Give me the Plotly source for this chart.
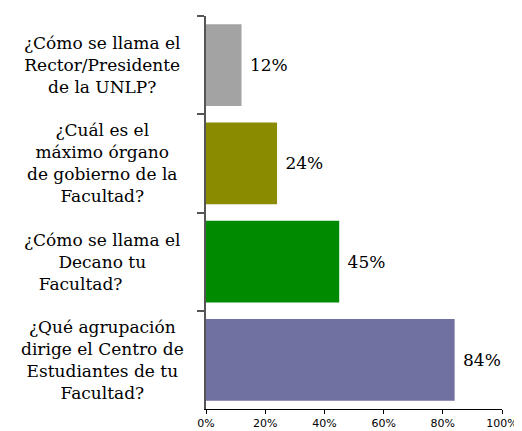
import plotly.graph_objects as go

categories = [
    "¿Cómo se llama el<br>Rector/Presidente<br>de la UNLP?",
    "¿Cuál es el<br>máximo órgano<br>de gobierno de la<br>Facultad?",
    "¿Cómo se llama el<br>Decano tu<br>Facultad?" + "&nbsp;" * 8,
    "¿Qué agrupación<br>dirige el Centro de<br>Estudiantes de tu<br>Facultad?",
]
values = [0.12, 0.24, 0.45, 0.84]
labels = ["12%", "24%", "45%", "84%"]
colors = ["#A3A3A3", "#8B8B00", "#008A00", "#7171A1"]
keys = ["q1", "q2", "q3", "q4"]

fig = go.Figure()
fig.add_trace(go.Bar(
    y=keys, x=values, orientation="h",
    marker=dict(color=colors, line=dict(width=0)),
    text=labels, texttemplate="&nbsp;%{text}", textposition="outside",
    textfont=dict(family="DejaVu Serif", size=17, color="black"),
    width=0.83, cliponaxis=False,
))

for k, c in zip(keys, categories):
    fig.add_annotation(
        x=-0.351, xref="paper", y=k, yref="y",
        text=c, showarrow=False, align="center",
        xanchor="center", yanchor="middle",
        font=dict(family="DejaVu Serif", size=17, color="black"),
    )

# page body has an 8px margin: figure is shifted by (8, 8)
fig.update_layout(
    width=514, height=423,
    margin=dict(l=198, r=20, t=8, b=22, autoexpand=False),
    paper_bgcolor="white", plot_bgcolor="white",
    showlegend=False,
    bargap=0.17,
)
fig.update_xaxes(
    range=[0, 1], dtick=0.2, tickformat=".0%", automargin=False,
    showgrid=False, zeroline=False,
    showline=True, linecolor="black", linewidth=1,
    ticks="outside", ticklen=4, tickcolor="black",
    tickfont=dict(family="DejaVu Sans", size=11, color="black"),
)
fig.update_yaxes(
    categoryorder="array", categoryarray=keys, autorange="reversed",
    automargin=False,
    showticklabels=False, showgrid=False, zeroline=False,
    showline=True, linecolor="#555555", linewidth=2,
    ticks="outside", ticklen=7, tickwidth=1.5, tickcolor="#555555",
    tickson="boundaries",
)

fig.write_html("out.html")
